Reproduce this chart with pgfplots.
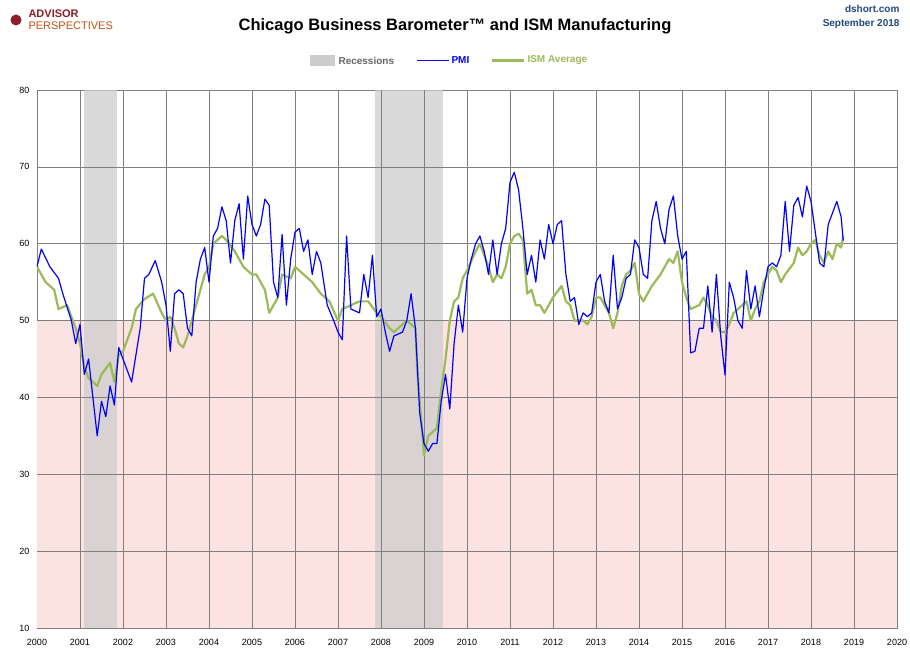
\documentclass[border=0pt]{standalone}
\usepackage{pgfplots}
\pgfplotsset{compat=1.18}
\usepackage{fontspec}
\setmainfont{Liberation Sans}
\definecolor{pmiblue}{RGB}{0,0,255}
\definecolor{ismgreen}{RGB}{155,187,89}
\definecolor{pinkz}{RGB}{253,226,226}
\definecolor{recg}{RGB}{205,205,205}
\definecolor{apred}{RGB}{140,30,40}
\definecolor{dblue}{RGB}{31,73,125}
\begin{document}
\begin{tikzpicture}[x=1pt,y=1pt]
\useasboundingbox (-37,-33) rectangle (873,628);
\begin{axis}[at={(0,0)},anchor=south west,scale only axis,width=860pt,height=538pt,
 xmin=2000,xmax=2020,ymin=10,ymax=80,
 xtick={2000,2001,...,2020},ytick={10,20,...,80},
 xticklabel style={/pgf/number format/1000 sep=,yshift=-8pt},
 yticklabel style={xshift=-4pt},
 /pgf/number format/assume math mode=true,
 tick label style={font=\fontsize{9}{10}\selectfont},
 grid=major,grid style={gray,line width=0.5pt},
 axis line style={gray},tick style={draw=none},
 clip=true]
\fill[pinkz] (axis cs:2000,10) rectangle (axis cs:2020,50);
\fill[recg,opacity=0.75] (axis cs:2001.1,10) rectangle (axis cs:2001.85,80);
\fill[recg,opacity=0.75] (axis cs:2007.87,10) rectangle (axis cs:2009.45,80);
\pgfplotsinvokeforeach{20,30,40,50,60,70}{\draw[gray,line width=0.5pt] (axis cs:2000,#1) -- (axis cs:2020,#1);}
\pgfplotsinvokeforeach{2001,...,2019}{\draw[gray,line width=0.5pt] (axis cs:#1,10) -- (axis cs:#1,80);}
\addplot[ismgreen,line width=2.2pt,line join=round] coordinates {
(2000,57)(2000.2,55)(2000.4,54)(2000.5,51.5)(2000.7,52)(2000.9,49)(2001.0,47)(2001.1,44)(2001.2,42.5)(2001.4,41.5)(2001.5,43)(2001.7,44.5)(2001.8,42)(2001.9,45.5)(2002.0,46)(2002.2,49)(2002.3,51.5)(2002.5,52.8)(2002.7,53.5)(2002.9,51)(2003.0,50)(2003.1,50.5)(2003.2,49)(2003.3,47)(2003.4,46.5)(2003.5,48)(2003.7,52)(2003.9,56)(2004.0,57)(2004.1,60)(2004.3,61)(2004.4,60.5)(2004.6,59)(2004.8,57)(2005.0,56)(2005.1,56)(2005.3,54)(2005.4,51)(2005.6,53)(2005.7,56)(2005.9,55.5)(2006.0,57)(2006.2,56)(2006.4,55)(2006.6,53.5)(2006.8,52.5)(2007.0,50)(2007.1,51.5)(2007.3,52)(2007.5,52.5)(2007.7,52.5)(2007.9,51)(2008.0,50.5)(2008.2,49)(2008.3,48.5)(2008.5,49.5)(2008.6,50)(2008.8,49)(2008.85,43)(2008.95,36)(2009.0,32.5)(2009.1,35)(2009.3,36)(2009.4,41)(2009.5,45)(2009.6,50)(2009.7,52.5)(2009.8,53)(2009.9,55.5)(2010.0,56.5)(2010.2,59)(2010.3,60)(2010.5,57)(2010.6,55)(2010.7,56)(2010.8,55.5)(2010.9,57)(2011.0,60)(2011.1,61)(2011.2,61.3)(2011.3,60.5)(2011.4,53.5)(2011.5,54)(2011.6,52)(2011.7,52)(2011.8,51)(2011.9,52)(2012.0,53)(2012.2,54.5)(2012.3,52.5)(2012.4,52)(2012.5,50)(2012.7,50)(2012.8,49.5)(2012.9,50.5)(2013.0,53)(2013.1,53)(2013.2,52)(2013.3,51)(2013.4,49)(2013.5,51)(2013.6,54.5)(2013.7,56)(2013.8,56.5)(2013.9,57.5)(2014.0,53.5)(2014.1,52.5)(2014.3,54.5)(2014.5,56)(2014.7,58)(2014.8,57.5)(2014.9,59)(2015.0,55)(2015.1,53)(2015.2,51.5)(2015.4,52)(2015.5,53)(2015.6,52)(2015.7,50.5)(2015.8,50)(2015.9,48.5)(2016.0,48.5)(2016.1,49.5)(2016.2,51)(2016.3,51.5)(2016.5,52.5)(2016.6,50)(2016.7,51.5)(2016.8,52.5)(2016.9,55)(2017.0,56)(2017.1,57)(2017.2,56.5)(2017.3,55)(2017.4,56)(2017.6,57.5)(2017.7,59.5)(2017.8,58.5)(2017.9,59)(2018.0,60)(2018.1,60.5)(2018.2,58.5)(2018.3,57.5)(2018.4,59)(2018.5,58)(2018.6,60)(2018.7,59.5)(2018.75,61)};
\addplot[pmiblue,line width=1.2pt,line join=round] coordinates {
(2000.0,57)(2000.1,59.3)(2000.3,57)(2000.5,55.5)(2000.6,53.5)(2000.8,50)(2000.9,47)(2001.0,49.5)(2001.1,43)(2001.2,45)(2001.3,40)(2001.4,35)(2001.5,39.5)(2001.6,37.5)(2001.7,41.5)(2001.8,39)(2001.9,46.5)(2002.0,45)(2002.2,42)(2002.4,49)(2002.5,55.5)(2002.6,56)(2002.75,57.8)(2002.9,55)(2003.0,52)(2003.1,46)(2003.2,53.5)(2003.3,54)(2003.4,53.5)(2003.5,49)(2003.6,48)(2003.7,55)(2003.8,58)(2003.9,59.5)(2004.0,55)(2004.1,61)(2004.2,62)(2004.3,64.8)(2004.4,63)(2004.5,57.5)(2004.6,63)(2004.7,65.2)(2004.8,58)(2004.9,66.2)(2005.0,62.5)(2005.1,61)(2005.2,62.5)(2005.3,65.8)(2005.4,65)(2005.5,55)(2005.6,53)(2005.7,61.2)(2005.8,52)(2005.9,58)(2006.0,61.5)(2006.1,62)(2006.2,59)(2006.3,60.5)(2006.4,56)(2006.5,59)(2006.6,57.5)(2006.75,52)(2006.9,50)(2007.0,48.5)(2007.1,47.5)(2007.2,61)(2007.3,51.5)(2007.5,51)(2007.6,56)(2007.7,53)(2007.8,58.5)(2007.9,50.5)(2008.0,51.5)(2008.1,48.5)(2008.2,46)(2008.3,48)(2008.5,48.5)(2008.6,50)(2008.7,53.5)(2008.8,49)(2008.9,38)(2009.0,34)(2009.1,33)(2009.2,34)(2009.3,34)(2009.4,39.5)(2009.5,43)(2009.6,38.5)(2009.7,47)(2009.8,52)(2009.9,48.5)(2010.0,55.5)(2010.1,58)(2010.2,60)(2010.3,61)(2010.4,59)(2010.5,56)(2010.6,60.5)(2010.7,56)(2010.8,60)(2010.9,62)(2011.0,68)(2011.1,69.3)(2011.2,67)(2011.3,62)(2011.4,56)(2011.5,58.5)(2011.6,55)(2011.7,60.5)(2011.8,58)(2011.9,62.5)(2012.0,60)(2012.1,62.5)(2012.2,63)(2012.3,56)(2012.4,52.5)(2012.5,53)(2012.6,49.5)(2012.7,51)(2012.8,50.5)(2012.9,51)(2013.0,55)(2013.1,56)(2013.2,52.5)(2013.3,51)(2013.4,58.5)(2013.5,51.5)(2013.6,53)(2013.7,55.5)(2013.8,56)(2013.9,60.5)(2014.0,59.5)(2014.1,56)(2014.2,55.5)(2014.3,63)(2014.4,65.5)(2014.5,62)(2014.6,60)(2014.7,64.5)(2014.8,66.2)(2014.9,61)(2015.0,58)(2015.1,59)(2015.2,45.8)(2015.3,46)(2015.4,49)(2015.5,49)(2015.6,54.5)(2015.7,48.5)(2015.8,56)(2015.9,48)(2016.0,42.9)(2016.1,55)(2016.2,53)(2016.3,50)(2016.4,49)(2016.5,56.5)(2016.6,51.5)(2016.7,54.5)(2016.8,50.5)(2016.9,54)(2017.0,57)(2017.1,57.5)(2017.2,57)(2017.3,58.5)(2017.4,65.5)(2017.5,59)(2017.6,65)(2017.7,66)(2017.8,63.5)(2017.9,67.5)(2018.0,65.5)(2018.1,61.5)(2018.2,57.5)(2018.3,57)(2018.4,62.5)(2018.5,64)(2018.6,65.5)(2018.7,63.5)(2018.75,60.4)};
\end{axis}
\node[font=\bfseries\fontsize{16.5}{18}\selectfont] at (418,602) {Chicago Business Barometer™ and ISM Manufacturing};
\node[font=\bfseries\fontsize{10}{12}\selectfont,text=dblue,align=right,anchor=north east] at (866,626) {dshort.com\\[2pt]September 2018};
\node[font=\bfseries\fontsize{11}{12}\selectfont,text=apred,anchor=west] at (-12,614) {ADVISOR};
\node[font=\fontsize{11}{12}\selectfont,text=apred!50!orange,anchor=west] at (-12,602) {PERSPECTIVES};
\fill[apred] (-21,608) circle (5.5pt);
\fill[recg] (273,562) rectangle (298,573);
\node[font=\bfseries\fontsize{10}{11}\selectfont,text=gray!80!black,anchor=west] at (298,567.5) {Recessions};
\draw[pmiblue,line width=1.2pt] (380,567.5) -- (412,567.5);
\node[font=\bfseries\fontsize{10}{11}\selectfont,text=pmiblue,anchor=west] at (411,567.5) {PMI};
\draw[ismgreen,line width=2.2pt] (455,567.5) -- (487,567.5);
\node[font=\bfseries\fontsize{10}{11}\selectfont,text=ismgreen,anchor=west] at (487,567.5) {ISM Average};
\end{tikzpicture}
\end{document}
